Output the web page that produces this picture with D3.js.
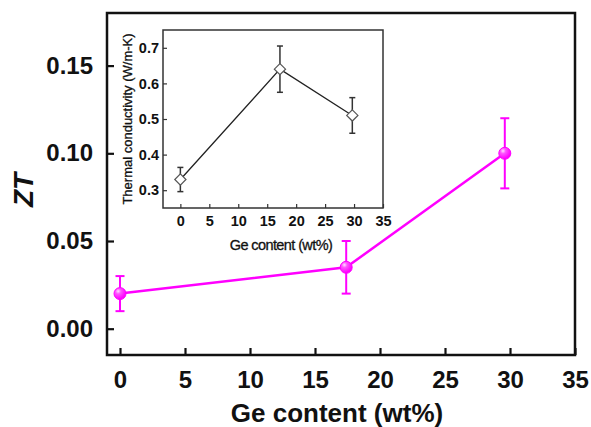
<!DOCTYPE html>
<html>
<head>
<meta charset="utf-8">
<style>
    body { margin: 0; background: #fff; }
    svg { display: block; font-family: "Liberation Sans", Arial, sans-serif; }
    .main-tick text { font-size: 24px; font-weight: bold; fill: #111; }
    .inset-tick text { font-size: 14.5px; font-weight: bold; fill: #111; }
</style>
<script src="https://d3js.org/d3.v7.min.js"></script>
</head>
<body>
<svg width="591" height="427"></svg>
<script>
    // main plot: ZT vs Ge content
    const geContent = [0, 17.4, 29.6];
    const ztValues = [0.02, 0.035, 0.10];
    const ztErrors = [0.01, 0.015, 0.02];
    const mainXTicks = [0, 5, 10, 15, 20, 25, 30, 35];
    const mainYTicks = [0.00, 0.05, 0.10, 0.15];

    // inset: thermal conductivity vs Ge content
    const insetGe = [0, 17.2, 29.7];
    const kappaValues = [0.33, 0.64, 0.51];
    const kappaErrors = [0.034, 0.065, 0.05];
    const insetXTicks = [0, 5, 10, 15, 20, 25, 30, 35];
    const insetYTicks = [0.3, 0.4, 0.5, 0.6, 0.7];

    const svg = d3.select("svg");
    const magenta = "#ff00ff";

    // ---- main axes ----
    const box = {left: 107, right: 575, top: 13, bottom: 355};
    const x = d3.scaleLinear().domain([-1, 35]).range([box.left, box.right]);
    const y = d3.scaleLinear().domain([-0.015, 0.18]).range([box.bottom, box.top]);

    svg.append("g")
        .attr("class", "main-tick")
        .attr("transform", "translate(0," + box.bottom + ")")
        .call(d3.axisBottom(x).tickValues(mainXTicks).tickFormat(d3.format("d"))
            .tickSizeInner(-7).tickSizeOuter(0).tickPadding(16))
        .call(g => g.select(".domain").remove())
        .call(g => g.selectAll("line").attr("stroke", "#111").attr("stroke-width", 2.2));

    svg.append("g")
        .attr("class", "main-tick")
        .attr("transform", "translate(" + box.left + ",0)")
        .call(d3.axisLeft(y).tickValues(mainYTicks).tickFormat(d3.format(".2f"))
            .tickSizeInner(-7).tickSizeOuter(0).tickPadding(14))
        .call(g => g.select(".domain").remove())
        .call(g => g.selectAll("line").attr("stroke", "#111").attr("stroke-width", 2.2));

    svg.append("rect")
        .attr("x", box.left).attr("y", box.top)
        .attr("width", box.right - box.left).attr("height", box.bottom - box.top)
        .attr("fill", "none").attr("stroke", "#111").attr("stroke-width", 2.5);

    svg.append("text")
        .attr("x", (box.left + box.right) / 2 - 4).attr("y", 422)
        .attr("text-anchor", "middle")
        .style("font-size", "26px").style("font-weight", "bold").attr("fill", "#111")
        .text("Ge content (wt%)");

    svg.append("text")
        .attr("transform", "translate(33,190) rotate(-90)")
        .attr("text-anchor", "middle")
        .style("font-size", "28px").style("font-weight", "bold").style("font-style", "italic")
        .attr("fill", "#111")
        .text("ZT");

    // ---- inset ----
    const ib = {left: 163, right: 383, top: 30, bottom: 208};
    const ix = d3.scaleLinear().domain([-3, 35]).range([ib.left, ib.right]);
    const iy = d3.scaleLinear().domain([0.25, 0.75]).range([ib.bottom, ib.top]);

    svg.append("rect")
        .attr("x", ib.left).attr("y", ib.top)
        .attr("width", ib.right - ib.left).attr("height", ib.bottom - ib.top)
        .attr("fill", "#fff").attr("stroke", "#333").attr("stroke-width", 1.5);

    svg.append("g")
        .attr("class", "inset-tick")
        .attr("transform", "translate(0," + ib.bottom + ")")
        .call(d3.axisBottom(ix).tickValues(insetXTicks).tickFormat(d3.format("d"))
            .tickSizeInner(-4).tickSizeOuter(0).tickPadding(8))
        .call(g => g.select(".domain").remove())
        .call(g => g.selectAll("line").attr("stroke", "#333").attr("stroke-width", 1.2));

    svg.append("g")
        .attr("class", "inset-tick")
        .attr("transform", "translate(" + ib.left + ",0)")
        .call(d3.axisLeft(iy).tickValues(insetYTicks).tickFormat(d3.format(".1f"))
            .tickSizeInner(-4).tickSizeOuter(0).tickPadding(4))
        .call(g => g.select(".domain").remove())
        .call(g => g.selectAll("line").attr("stroke", "#333").attr("stroke-width", 1.2));

    svg.append("text")
        .attr("x", (ib.left + ib.right) / 2 + 8).attr("y", 250)
        .attr("text-anchor", "middle")
        .style("font-size", "14.5px").attr("fill", "#111")
        .attr("stroke", "#111").attr("stroke-width", 0.3)
        .style("letter-spacing", "-0.6px")
        .text("Ge content (wt%)");

    svg.append("text")
        .attr("transform", "translate(132," + (ib.top + ib.bottom) / 2 + ") rotate(-90)")
        .attr("text-anchor", "middle")
        .style("font-size", "13px").attr("fill", "#111")
        .attr("stroke", "#111").attr("stroke-width", 0.3)
        .text("Thermal conductivity (W/m-K)");

    const inset = insetGe.map((g, i) => ({x: g, y: kappaValues[i], e: kappaErrors[i]}));

    svg.append("path")
        .datum(inset)
        .attr("fill", "none").attr("stroke", "#222").attr("stroke-width", 1.3)
        .attr("d", d3.line().x(d => ix(d.x)).y(d => iy(d.y)));

    const ierr = svg.append("g").attr("stroke", "#333").attr("stroke-width", 1.5);
    inset.forEach(d => {
        ierr.append("line")
            .attr("x1", ix(d.x)).attr("x2", ix(d.x))
            .attr("y1", iy(d.y - d.e)).attr("y2", iy(d.y + d.e));
        [d.y - d.e, d.y + d.e].forEach(v => {
            ierr.append("line")
                .attr("x1", ix(d.x) - 3).attr("x2", ix(d.x) + 3)
                .attr("y1", iy(v)).attr("y2", iy(v));
        });
    });

    svg.append("g").selectAll("path")
        .data(inset)
        .join("path")
        .attr("d", d3.symbol(d3.symbolDiamond2, 80))
        .attr("transform", d => "translate(" + ix(d.x) + "," + iy(d.y) + ")")
        .attr("fill", "#fff").attr("stroke", "#555").attr("stroke-width", 1.2);

    // ---- main series ----
    const pts = geContent.map((g, i) => ({x: g, y: ztValues[i], e: ztErrors[i]}));

    svg.append("path")
        .datum(pts)
        .attr("fill", "none").attr("stroke", magenta).attr("stroke-width", 2.5)
        .attr("d", d3.line().x(d => x(d.x)).y(d => y(d.y)));

    const err = svg.append("g").attr("stroke", magenta).attr("stroke-width", 2);
    pts.forEach(d => {
        err.append("line")
            .attr("x1", x(d.x)).attr("x2", x(d.x))
            .attr("y1", y(d.y - d.e)).attr("y2", y(d.y + d.e));
        [d.y - d.e, d.y + d.e].forEach(v => {
            err.append("line")
                .attr("x1", x(d.x) - 4.5).attr("x2", x(d.x) + 4.5)
                .attr("y1", y(v)).attr("y2", y(v));
        });
    });

    const defs = svg.append("defs");
    const grad = defs.append("radialGradient")
        .attr("id", "ball").attr("cx", "35%").attr("cy", "30%").attr("r", "65%");
    grad.append("stop").attr("offset", "0%").attr("stop-color", "#ffe0ff");
    grad.append("stop").attr("offset", "35%").attr("stop-color", "#ff55ff");
    grad.append("stop").attr("offset", "100%").attr("stop-color", magenta);

    svg.append("g").selectAll("circle")
        .data(pts)
        .join("circle")
        .attr("cx", d => x(d.x)).attr("cy", d => y(d.y))
        .attr("r", 6)
        .attr("fill", "url(#ball)")
        .attr("stroke", magenta).attr("stroke-width", 1);
</script>
</body>
</html>
